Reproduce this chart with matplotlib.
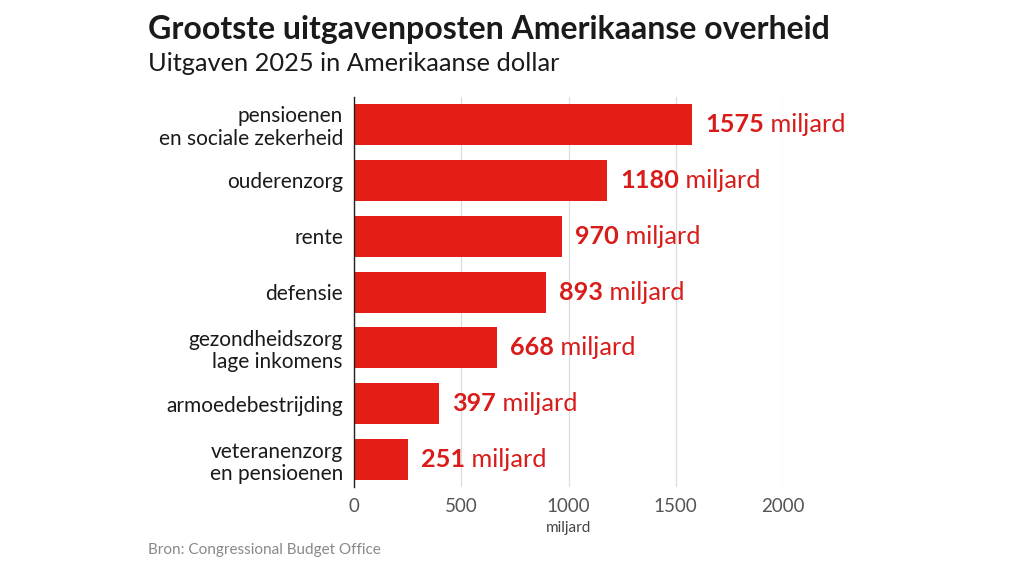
import matplotlib.pyplot as plt

categories = ['pensioenen\nen sociale zekerheid', 'ouderenzorg', 'rente', 'defensie',
              'gezondheidszorg\nlage inkomens', 'armoedebestrijding',
              'veteranenzorg\nen pensioenen']
values = [1575, 1180, 970, 893, 668, 397, 251]
xticks = [0, 500, 1000, 1500, 2000]

plt.rcParams['font.family'] = ['Lato', 'DejaVu Sans']
bar_color = '#E41E16'
text_red = '#D81C1A'

fig = plt.figure(figsize=(10.24, 5.76), dpi=100)
ax = fig.add_axes([0.3457, 0.1545, 0.419, 0.677])

y = list(range(len(values)))
ax.barh(y, values, height=0.735, color=bar_color, zorder=2)
ax.set_ylim(6.49, -0.49)
ax.set_xlim(0, 2000)

ax.set_yticks(y)
ax.set_yticklabels(categories, fontsize=15, color='#1a1a1a', linespacing=1.15)
ax.set_xticks(xticks)
ax.set_xticklabels([str(t) for t in xticks], fontsize=13.5, color='#555555')
ax.tick_params(axis='y', length=0, pad=8)
ax.tick_params(axis='x', length=0, pad=8)
ax.set_xlabel('miljard', fontsize=11, color='#444444', labelpad=4)

ax.grid(True, axis='x', color='#dddddd', linewidth=0.9, zorder=0)
for s in ['top', 'right', 'bottom']:
    ax.spines[s].set_visible(False)
ax.spines['left'].set_color('#222222')
ax.spines['left'].set_linewidth(1.0)
ax.spines['left'].set_zorder(3)

for yi, v in zip(y, values):
    t = ax.annotate(str(v), xy=(v, yi), xytext=(9.5, 0), textcoords='offset points',
                    va='center', ha='left', fontsize=18.2, fontweight='bold', color=text_red)
    ax.annotate(' miljard', xy=(1, 0), xycoords=t, va='bottom', ha='left',
                fontsize=18.2, color=text_red)

fig.text(0.1445, 0.948, 'Grootste uitgavenposten Amerikaanse overheid', fontsize=23,
         fontweight='bold', color='#1a1a1a', va='center', ha='left')
fig.text(0.1445, 0.889, 'Uitgaven 2025 in Amerikaanse dollar', fontsize=18.3,
         color='#1a1a1a', va='center', ha='left')
fig.text(0.1445, 0.045, 'Bron: Congressional Budget Office', fontsize=11,
         color='#888888', va='center', ha='left')

fig.savefig('out.png', dpi=100)
